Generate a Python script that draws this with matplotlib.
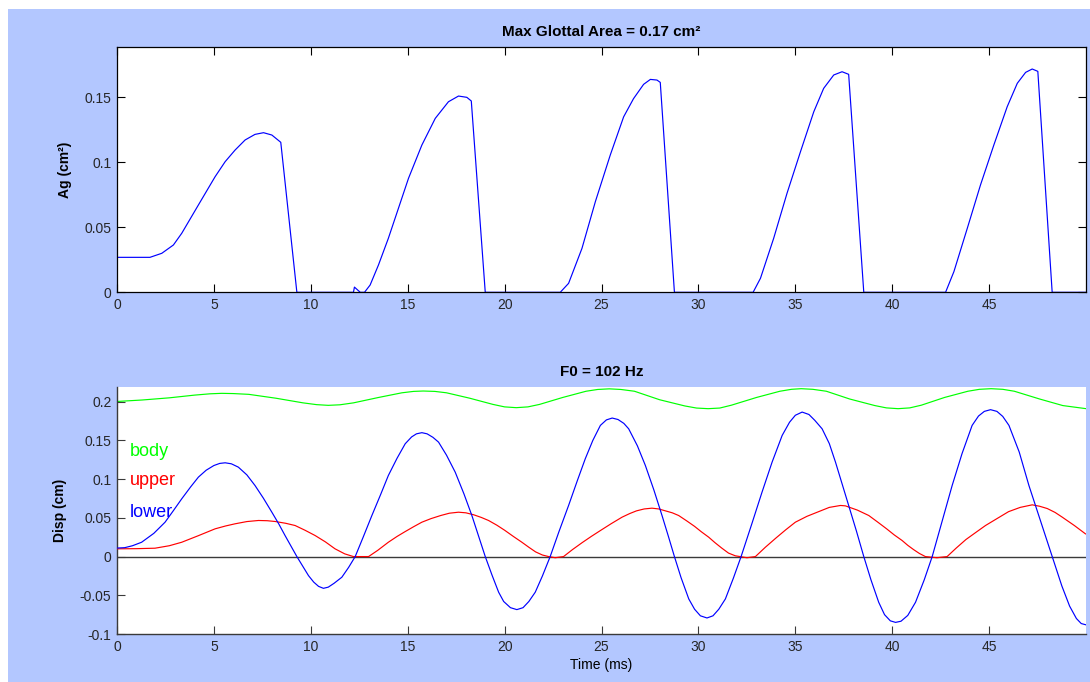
import matplotlib
matplotlib.use('Agg')
import matplotlib.pyplot as plt
from matplotlib.patches import Rectangle
from matplotlib.ticker import FuncFormatter

# glottal area trace (time in ms, area in cm^2)
ag_t = [0, 1.7, 2.31, 2.91, 3.34, 4.2, 5.06, 5.58, 6.09, 6.61, 7.12, 7.56, 7.99, 8.45, 9.28,
        12.2, 12.25, 12.55, 12.77, 13.06, 13.49, 14.0, 15.04, 15.73, 16.42, 17.1, 17.62, 18.05,
        18.28, 19.0,
        22.87, 23.3, 23.99, 24.68, 25.45, 26.14, 26.65, 27.17, 27.52, 27.86, 28.03, 28.76,
        32.82, 33.2, 33.88, 34.57, 35.26, 35.95, 36.46, 36.98, 37.41, 37.75, 38.53,
        42.75, 43.18, 43.87, 44.55, 45.24, 45.93, 46.45, 46.88, 47.22, 47.51, 48.25, 50.0]
ag = [0.0269, 0.0269, 0.030, 0.0364, 0.0454, 0.0672, 0.0889, 0.1005, 0.1094, 0.1172, 0.1215,
      0.1228, 0.121, 0.1154, 0.0,
      0.0, 0.004, 0.0, 0.0, 0.0056, 0.021, 0.0415, 0.0877, 0.1133, 0.1338, 0.1466, 0.151,
      0.150, 0.1472, 0.0,
      0.0, 0.0069, 0.0338, 0.0697, 0.1056, 0.135, 0.149, 0.160, 0.1638, 0.1633, 0.1615, 0.0,
      0.0, 0.0108, 0.0415, 0.0762, 0.108, 0.1389, 0.1569, 0.1672, 0.1697, 0.1677, 0.0,
      0.0, 0.0159, 0.0492, 0.0825, 0.1133, 0.1428, 0.1608, 0.1692, 0.1718, 0.170, 0.0, 0.0]

# fold displacements (cm)
body_t = [0, 1.3, 2.7, 4.0, 4.8, 5.4, 6.0, 6.8, 8.2, 9.6, 10.3, 10.9, 11.5, 12.2, 13.5, 14.7,
          15.3, 15.8, 16.4, 17.0, 18.2, 19.4, 20.0, 20.6, 21.2, 21.8, 23.0, 24.2, 24.8, 25.4,
          26.0, 26.7, 28.0, 29.3, 29.9, 30.5, 31.1, 31.7, 33.0, 34.2, 34.8, 35.3, 35.9, 36.6,
          37.8, 39.1, 39.7, 40.3, 40.9, 41.5, 42.7, 43.9, 44.5, 45.1, 45.7, 46.3, 47.6, 48.8,
          50.0]
body = [0.2003, 0.2022, 0.2050, 0.2085, 0.2102, 0.2108, 0.2105, 0.2095, 0.2045, 0.1985,
        0.1962, 0.1953, 0.1960, 0.1985, 0.2055, 0.2115, 0.2133, 0.2138, 0.2133, 0.2115,
        0.2045, 0.1965, 0.1933, 0.1923, 0.1933, 0.1965, 0.2055, 0.2135, 0.2158, 0.2166,
        0.2158, 0.2135, 0.2025, 0.1945, 0.1918, 0.191, 0.1918, 0.1955, 0.2055, 0.2135,
        0.2160, 0.2168, 0.2160, 0.2135, 0.2035, 0.1950, 0.1920, 0.191, 0.1920, 0.1955,
        0.2055, 0.2135, 0.2160, 0.2168, 0.2160, 0.2135, 0.2035, 0.1950, 0.191]

upper_t = [0, 1.0, 1.96, 2.7, 3.34, 4.2, 5.06, 5.6, 6.09, 6.7, 7.3, 7.75, 8.16, 8.7, 9.19,
           9.7, 10.22, 10.75, 11.25, 11.75, 12.2, 12.98, 13.45, 14.0, 14.45, 14.85, 15.3,
           15.73, 16.2, 16.7, 17.15, 17.62, 18.0, 18.4, 18.8, 19.17, 19.6, 20.0, 20.45, 20.89,
           21.25, 21.6, 21.95, 22.27, 22.61, 23.04, 23.5, 24.0, 24.47, 24.94, 25.5, 26.06,
           26.45, 26.8, 27.2, 27.6, 27.95, 28.3, 28.65, 28.98, 29.4, 29.8, 30.15, 30.53, 30.85,
           31.2, 31.55, 31.9, 32.5, 32.94, 33.45, 34.0, 34.5, 35.0, 35.6, 36.2, 36.75, 37.33,
           37.58, 38.2, 38.79, 39.25, 39.7, 40.1, 40.51, 40.8, 41.1, 41.4, 41.71, 42.3, 42.83,
           43.3, 43.8, 44.3, 44.81, 45.4, 46.0, 46.6, 47.22, 47.6, 48.0, 48.4, 48.77, 49.4,
           49.97]
upper = [0.010, 0.0102, 0.0108, 0.014, 0.0185, 0.027, 0.0358, 0.0395, 0.0423, 0.0452, 0.0466,
         0.0463, 0.0453, 0.043, 0.0401, 0.034, 0.0272, 0.019, 0.010, 0.0035, 0.0, 0.0, 0.008,
         0.0185, 0.026, 0.032, 0.0385, 0.0444, 0.049, 0.053, 0.056, 0.0573, 0.0565, 0.054,
         0.0505, 0.0466, 0.0405, 0.034, 0.026, 0.0185, 0.012, 0.006, 0.002, 0.0, -0.0015, 0.0,
         0.009, 0.018, 0.026, 0.0336, 0.0425, 0.0509, 0.0555, 0.059, 0.0615, 0.0625, 0.0615,
         0.059, 0.0565, 0.053, 0.046, 0.039, 0.032, 0.025, 0.018, 0.011, 0.0045, 0.001,
         -0.0015, 0.0, 0.012, 0.024, 0.0345, 0.0444, 0.052, 0.058, 0.0635, 0.066, 0.0655,
         0.060, 0.053, 0.0445, 0.036, 0.028, 0.0207, 0.0145, 0.009, 0.004, 0.0, -0.0015, 0.0,
         0.011, 0.022, 0.031, 0.0401, 0.049, 0.058, 0.0635, 0.0668, 0.065, 0.062, 0.057,
         0.0509, 0.040, 0.0293]

lower_t = [0, 0.4, 0.8, 1.27, 1.9, 2.48, 2.9, 3.34, 3.8, 4.2, 4.6, 5.0, 5.3, 5.58, 5.9, 6.26,
           6.7, 7.12, 7.55, 7.99, 8.35, 8.67, 9.28, 9.6, 9.88, 10.15, 10.4, 10.65, 10.9, 11.2,
           11.6, 11.95, 12.29, 12.7, 13.15, 13.6, 14.0, 14.45, 14.87, 15.2, 15.45, 15.73, 16.0,
           16.3, 16.59, 17.0, 17.45, 17.9, 18.31, 18.65, 19.0, 19.35, 19.69, 19.95, 20.3,
           20.63, 20.95, 21.25, 21.58, 21.95, 22.35, 22.8, 23.3, 23.75, 24.16, 24.55, 24.94,
           25.25, 25.55, 25.85, 26.15, 26.4, 26.85, 27.26, 27.7, 28.12, 28.45, 28.76, 29.1,
           29.5, 29.8, 30.1, 30.44, 30.75, 31.05, 31.39, 31.8, 32.2, 32.75, 33.28, 33.8, 34.32,
           34.7, 35.0, 35.35, 35.7, 36.0, 36.38, 36.75, 37.07, 37.4, 37.75, 38.15, 38.53, 38.9,
           39.3, 39.6, 39.9, 40.17, 40.45, 40.8, 41.2, 41.65, 42.06, 42.6, 43.09, 43.6, 44.12,
           44.45, 44.75, 45.07, 45.4, 45.7, 46.02, 46.55, 47.05, 47.65, 48.25, 48.75, 49.15,
           49.5, 49.75, 49.97]
lower = [0.011, 0.0115, 0.014, 0.0185, 0.030, 0.0444, 0.059, 0.0746, 0.090, 0.1026, 0.1115,
         0.1176, 0.1203, 0.1211, 0.1198, 0.1155, 0.1055, 0.0918, 0.0755, 0.0573, 0.042, 0.0272,
         0.0, -0.013, -0.0246, -0.033, -0.0385, -0.041, -0.0395, -0.0345, -0.0267, -0.014, 0.0,
         0.025, 0.053, 0.080, 0.1047, 0.127, 0.1457, 0.1545, 0.1585, 0.160, 0.1585, 0.154,
         0.1478, 0.131, 0.109, 0.081, 0.053, 0.027, 0.0, -0.024, -0.046, -0.058, -0.066,
         -0.0685, -0.066, -0.058, -0.046, -0.025, 0.0, 0.032, 0.066, 0.098, 0.1263, 0.150,
         0.1694, 0.1765, 0.1789, 0.177, 0.172, 0.165, 0.143, 0.1177, 0.086, 0.053, 0.026, 0.0,
         -0.027, -0.0547, -0.068, -0.0765, -0.0793, -0.0765, -0.068, -0.0547, -0.028, 0.0,
         0.042, 0.0832, 0.122, 0.1565, 0.1735, 0.1825, 0.1866, 0.1835, 0.176, 0.165, 0.146,
         0.122, 0.095, 0.066, 0.033, 0.0, -0.03, -0.059, -0.075, -0.083, -0.085, -0.0835,
         -0.076, -0.059, -0.030, 0.0, 0.048, 0.0918, 0.133, 0.1694, 0.1815, 0.1875, 0.1897,
         0.1875, 0.181, 0.1694, 0.135, 0.0918, 0.046, 0.0, -0.038, -0.064, -0.080, -0.0865,
         -0.088]

xticks = [0, 5, 10, 15, 20, 25, 30, 35, 40, 45]
ag_ticks = [0, 0.05, 0.1, 0.15]
disp_ticks = [-0.1, -0.05, 0, 0.05, 0.1, 0.15, 0.2]

plt.rcParams['font.family'] = ['Liberation Sans', 'DejaVu Sans']
plt.rcParams['axes.unicode_minus'] = False

W, H = 1090, 682
bg = '#b3c7ff'
dark = '#262626'
lw = 0.85
fmt = FuncFormatter(lambda v, p: '%g' % round(v, 4))

fig = plt.figure(figsize=(W / 100, H / 100), dpi=100, facecolor='white')
fig.patches.append(Rectangle((8 / W, 0), 1, 1 - 9 / H, transform=fig.transFigure,
                             facecolor=bg, edgecolor='none', zorder=-10))

# upper panel: glottal area
ax1 = fig.add_axes([117 / W, 1 - 292.3 / H, 968.7 / W, 245 / H])
ax1.plot(ag_t, ag, color='#0000ff', lw=lw)
ax1.set_xlim(0, 49.98)
ax1.set_ylim(0, 0.1885)
ax1.set_xticks(xticks)
ax1.set_yticks(ag_ticks)
ax1.yaxis.set_major_formatter(fmt)
ax1.tick_params(direction='in', length=6, width=0.8, top=True, right=True,
                labelsize=10, colors='black', labelcolor=dark, pad=4)
for s in ax1.spines.values():
    s.set_color('black')
    s.set_linewidth(0.9)
ax1.set_title('Max Glottal Area = 0.17 cm\u00b2', fontsize=11, fontweight='bold', pad=8)
ax1.set_ylabel('Ag (cm\u00b2)', fontsize=10, fontweight='bold', labelpad=9)

# lower panel: displacements
ax2 = fig.add_axes([117 / W, 1 - 634 / H, 968.7 / W, 246.7 / H])
ax2.axhline(0, color='#3a3a3a', lw=1.0, zorder=1)
ax2.plot(body_t, body, color='#00ff00', lw=lw, zorder=2)
ax2.plot(upper_t, upper, color='#ff0000', lw=lw, zorder=3)
ax2.plot(lower_t, lower, color='#0000ff', lw=lw, zorder=4)
ax2.set_xlim(0, 49.98)
ax2.set_ylim(-0.1, 0.2186)
ax2.set_xticks(xticks)
ax2.set_yticks(disp_ticks)
ax2.yaxis.set_major_formatter(fmt)
ax2.spines['top'].set_visible(False)
ax2.spines['right'].set_visible(False)
for s in ('left', 'bottom'):
    ax2.spines[s].set_color('#3a3a3a')
    ax2.spines[s].set_linewidth(1.0)
ax2.tick_params(direction='in', length=6, width=0.8, labelsize=10,
                colors='#3a3a3a', labelcolor=dark, pad=4)
ax2.set_title('F0 = 102 Hz', fontsize=11, fontweight='bold', pad=8)
ax2.set_ylabel('Disp (cm)', fontsize=10, fontweight='bold', labelpad=9)
ax2.set_xlabel('Time (ms)', fontsize=10, labelpad=3)

ax2.text(0.67, 0.1293, 'body', color='#00ff00', fontsize=13, va='baseline')
ax2.text(0.67, 0.0918, 'upper', color='#ff0000', fontsize=13, va='baseline')
ax2.text(0.67, 0.0508, 'lower', color='#0000ff', fontsize=13, va='baseline')

fig.savefig('out.png', dpi=100, facecolor='white')
